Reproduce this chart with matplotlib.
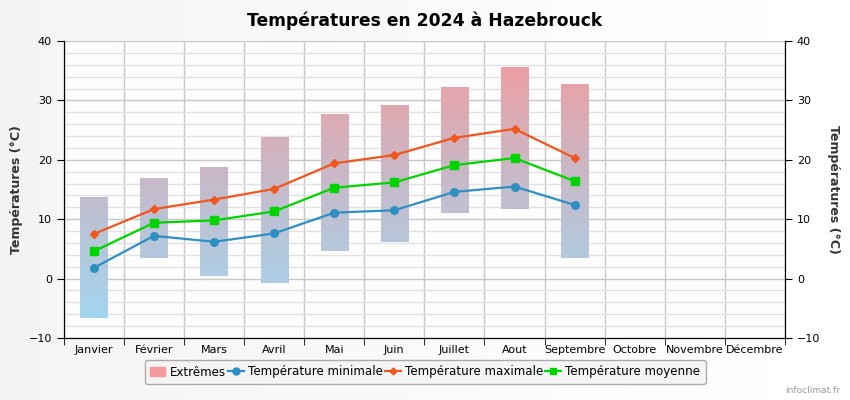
import numpy as np
import matplotlib.pyplot as plt
from matplotlib.colors import LinearSegmentedColormap
from matplotlib.patches import Patch
from matplotlib.lines import Line2D

# Data
months = ['Janvier', 'Février', 'Mars', 'Avril', 'Mai', 'Juin', 'Juillet',
          'Aout', 'Septembre', 'Octobre', 'Novembre', 'Décembre']
ext_low = [-6.6, 3.5, 0.4, -0.8, 4.7, 6.2, 11.0, 11.8, 3.5]
ext_high = [13.8, 17.0, 18.8, 23.8, 27.7, 29.2, 32.3, 35.7, 32.7]
t_min = [1.8, 7.2, 6.2, 7.6, 11.1, 11.5, 14.6, 15.5, 12.4]
t_max = [7.5, 11.7, 13.3, 15.1, 19.4, 20.8, 23.7, 25.2, 20.3]
t_mean = [4.6, 9.4, 9.8, 11.3, 15.3, 16.2, 19.1, 20.3, 16.4]

fig = plt.figure(figsize=(8.5, 4), dpi=100)

# light gradient background for the figure
bg = fig.add_axes([0, 0, 1, 1], zorder=-10)
bg.imshow(np.linspace(0.955, 1.0, 256).reshape(1, -1), cmap='gray', vmin=0, vmax=1,
          aspect='auto', extent=[0, 1, 0, 1])
bg.axis('off')

ax = fig.add_axes([0.075, 0.155, 0.8485, 0.7425])
ax.set_facecolor('#fdfdfd')
x = np.arange(len(ext_low))

# bars for the extremes, filled with a vertical gradient (blue cold -> red hot)
cmap = LinearSegmentedColormap.from_list('ext', ['#9ed9f5', '#c4bccc', '#f49a9c'])
bars = ax.bar(x, np.array(ext_high) - np.array(ext_low), bottom=ext_low, width=0.45,
              color='none', edgecolor='none', zorder=2)
grad = np.linspace(0, 1, 256).reshape(-1, 1)
for b in bars:
    im = ax.imshow(grad, cmap=cmap, origin='lower', aspect='auto',
                   extent=[-0.5, 11.5, -10, 40], zorder=2)
    im.set_clip_path(b)

ax.plot(x, t_min, color='#2e8fc2', lw=1.6, marker='o', ms=5.5, zorder=4)
ax.plot(x, t_max, color='#f0561e', lw=1.6, marker='D', ms=4, zorder=4)
ax.plot(x, t_mean, color='#00d400', lw=1.6, marker='s', ms=5.5, zorder=4)

ax.set_xlim(-0.5, 11.5)
ax.set_ylim(-10, 40)
ax.set_xticks(np.arange(12))
ax.set_xticklabels(months, fontsize=8)
ax.set_xticks(np.arange(-0.5, 12, 1), minor=True)
ax.tick_params(axis='x', which='major', length=0, pad=5)
ax.tick_params(axis='x', which='minor', length=5, color='black')
ax.set_yticks(np.arange(-10, 41, 10))
ax.set_yticks(np.arange(-10, 41, 2), minor=True)
ax.tick_params(axis='y', which='major', labelsize=8, length=5)
ax.tick_params(axis='y', which='minor', length=0)
ax.grid(True, which='major', axis='y', color='#c8c8c8', lw=1, zorder=0)
ax.grid(True, which='minor', axis='y', color='#e2e2e2', lw=1, zorder=0)
ax.grid(True, which='minor', axis='x', color='#c8c8c8', lw=1, zorder=0)
ax.set_axisbelow(True)
ax.spines['top'].set_visible(False)
ax.set_ylabel('Températures (°C)', fontsize=9, fontweight='bold', color='#333333')

ax2 = ax.twinx()
ax2.set_ylim(-10, 40)
ax2.set_yticks(np.arange(-10, 41, 10))
ax2.tick_params(axis='y', labelsize=8, length=5)
ax2.spines['top'].set_visible(False)
ax2.set_ylabel('Températures (°C)', fontsize=9, fontweight='bold', color='#333333',
               rotation=270, labelpad=14)

fig.suptitle('Températures en 2024 à Hazebrouck', fontsize=12.3, fontweight='bold', y=0.97)

# legend
handles = [Patch(color='#f49a9c'),
           Line2D([], [], color='#2e8fc2', lw=1.6, marker='o', ms=5),
           Line2D([], [], color='#f0561e', lw=1.6, marker='D', ms=3.5),
           Line2D([], [], color='#00d400', lw=1.6, marker='s', ms=5)]
labels = ['Extrêmes', 'Température minimale', 'Température maximale', 'Température moyenne']
leg = fig.legend(handles, labels, loc='center', bbox_to_anchor=(0.5, 0.07), ncol=4,
                 fontsize=8.6, frameon=True, fancybox=True, handlelength=1.3,
                 handletextpad=0.35, columnspacing=0.2, borderpad=0.45)
leg.get_frame().set_edgecolor('#999999')
leg.get_frame().set_facecolor('#f4f4f4')

fig.text(0.988, 0.018, 'infoclimat.fr', fontsize=6.5, color='#999999', ha='right')

fig.savefig('out.png', dpi=100)
